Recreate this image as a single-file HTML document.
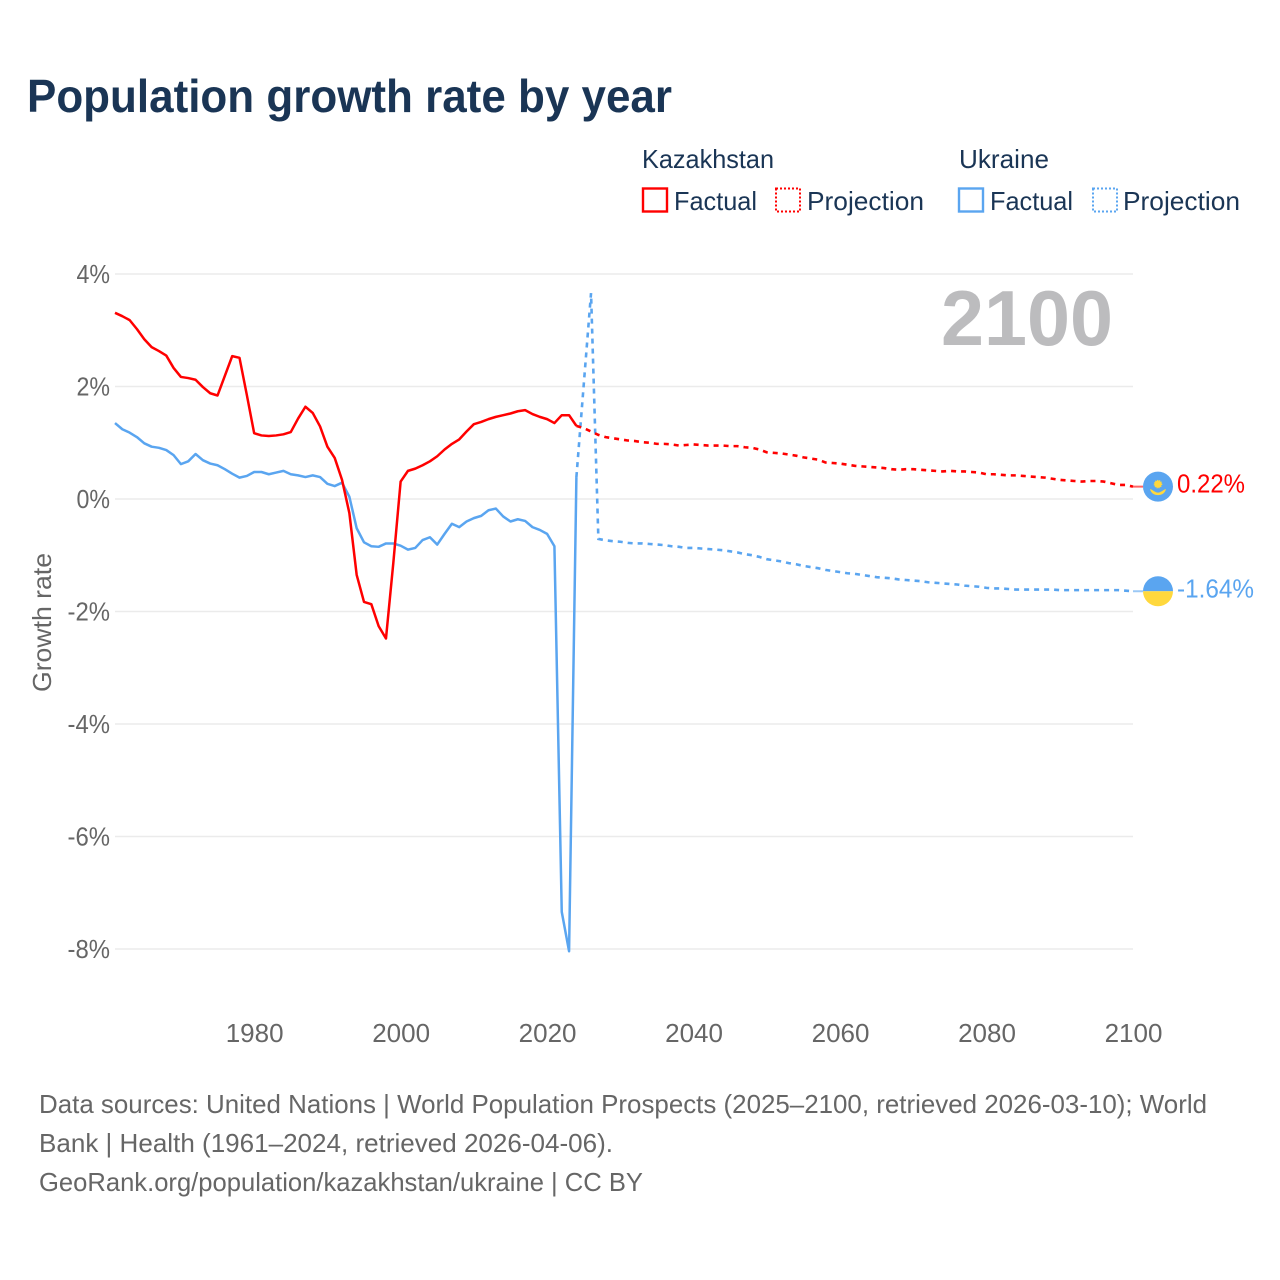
<!DOCTYPE html>
<html lang="en">
<head>
<meta charset="utf-8">
<title>Population growth rate by year</title>
<style>
html,body{margin:0;padding:0;background:#fff;width:1280px;height:1280px;overflow:hidden}
svg{display:block}
text{font-family:"Liberation Sans",sans-serif}
</style>
</head>
<body>
<svg id="chart" width="1280" height="1280" viewBox="0 0 1280 1280" xmlns="http://www.w3.org/2000/svg">
  <rect width="1280" height="1280" fill="#fff"/>
  <text x="27" y="112" font-size="46" font-weight="700" fill="#1a3555" textLength="645" lengthAdjust="spacingAndGlyphs">Population growth rate by year</text>

  <g font-size="26" fill="#1a3555">
    <text x="642" y="168" textLength="132" lengthAdjust="spacingAndGlyphs">Kazakhstan</text>
    <rect x="643" y="188.5" width="24" height="23" fill="none" stroke="#ff0000" stroke-width="2.4"/>
    <text x="674" y="210" textLength="83" lengthAdjust="spacingAndGlyphs">Factual</text>
    <rect x="776" y="188.5" width="24" height="23" fill="none" stroke="#ff0000" stroke-width="2" stroke-dasharray="2 2"/>
    <text x="807" y="210" textLength="117" lengthAdjust="spacingAndGlyphs">Projection</text>
    <text x="959" y="168" textLength="90" lengthAdjust="spacingAndGlyphs">Ukraine</text>
    <rect x="959" y="188.5" width="24" height="23" fill="none" stroke="#5aa5f0" stroke-width="2.4"/>
    <text x="990" y="210" textLength="83" lengthAdjust="spacingAndGlyphs">Factual</text>
    <rect x="1093" y="188.5" width="24" height="23" fill="none" stroke="#5aa5f0" stroke-width="2" stroke-dasharray="2 2"/>
    <text x="1123" y="210" textLength="117" lengthAdjust="spacingAndGlyphs">Projection</text>
  </g>

  <g id="grid"></g>
  <g id="yticks"></g>
  <g id="xticks"></g>

  <text x="941" y="345" font-size="78" font-weight="700" fill="#bcbcbe" textLength="172" lengthAdjust="spacingAndGlyphs">2100</text>
  <text transform="translate(51,692) rotate(-90)" font-size="26" fill="#666" textLength="139" lengthAdjust="spacingAndGlyphs">Growth rate</text>

  <g id="series"></g>
  <g id="ends"></g>

  <g font-size="26" fill="#666">
    <text x="39" y="1113" textLength="1168" lengthAdjust="spacingAndGlyphs">Data sources: United Nations | World Population Prospects (2025–2100, retrieved 2026-03-10); World</text>
    <text x="39" y="1152" textLength="574" lengthAdjust="spacingAndGlyphs">Bank | Health (1961–2024, retrieved 2026-04-06).</text>
    <text x="39" y="1191" textLength="604" lengthAdjust="spacingAndGlyphs">GeoRank.org/population/kazakhstan/ukraine | CC BY</text>
  </g>
</svg>

<script>
const yTicks = [4, 2, 0, -2, -4, -6, -8];
const xTicks = [1980, 2000, 2020, 2040, 2060, 2080, 2100];
const factualStartYear = 1961;
const projectionStartYear = 2024;

const kazakhstanFactual = [3.31,3.25,3.18,3.02,2.84,2.70,2.63,2.55,2.33,2.17,2.15,2.12,1.99,1.88,1.84,2.19,2.54,2.51,1.85,1.17,1.13,1.12,1.13,1.15,1.19,1.43,1.64,1.53,1.29,0.93,0.73,0.34,-0.25,-1.35,-1.83,-1.87,-2.26,-2.48,-1.14,0.31,0.50,0.54,0.60,0.67,0.76,0.88,0.98,1.06,1.20,1.33,1.37,1.42,1.46,1.49,1.52,1.56,1.58,1.51,1.46,1.42,1.35,1.49,1.49,1.30];
const kazakhstanProjection = [1.30,1.26,1.20,1.14,1.10,1.08,1.06,1.04,1.03,1.01,1.00,0.98,0.98,0.97,0.95,0.96,0.97,0.96,0.95,0.95,0.95,0.94,0.94,0.92,0.91,0.88,0.83,0.82,0.81,0.79,0.77,0.74,0.72,0.70,0.65,0.64,0.63,0.61,0.59,0.58,0.57,0.56,0.55,0.53,0.52,0.53,0.53,0.52,0.51,0.50,0.49,0.50,0.49,0.49,0.48,0.47,0.44,0.44,0.43,0.42,0.42,0.41,0.40,0.39,0.38,0.36,0.34,0.33,0.32,0.31,0.32,0.32,0.31,0.28,0.25,0.25,0.22];
const ukraineFactual = [1.35,1.24,1.18,1.10,0.99,0.93,0.91,0.87,0.78,0.62,0.67,0.80,0.69,0.63,0.60,0.53,0.45,0.38,0.41,0.48,0.48,0.44,0.47,0.50,0.44,0.42,0.39,0.42,0.39,0.27,0.23,0.29,0.04,-0.52,-0.77,-0.84,-0.85,-0.79,-0.79,-0.83,-0.90,-0.87,-0.73,-0.68,-0.81,-0.62,-0.44,-0.50,-0.40,-0.34,-0.30,-0.20,-0.17,-0.31,-0.40,-0.36,-0.39,-0.50,-0.55,-0.62,-0.84,-7.34,-8.04,0.39];
const ukraineProjection = [0.39,2.03,3.66,-0.71,-0.735,-0.75,-0.76,-0.78,-0.79,-0.79,-0.80,-0.81,-0.82,-0.84,-0.85,-0.87,-0.87,-0.88,-0.89,-0.90,-0.91,-0.93,-0.95,-0.98,-1.00,-1.03,-1.07,-1.09,-1.11,-1.14,-1.16,-1.19,-1.21,-1.23,-1.26,-1.28,-1.30,-1.32,-1.33,-1.35,-1.37,-1.39,-1.40,-1.41,-1.43,-1.44,-1.45,-1.46,-1.48,-1.49,-1.50,-1.51,-1.52,-1.54,-1.55,-1.56,-1.58,-1.59,-1.59,-1.60,-1.61,-1.61,-1.61,-1.61,-1.61,-1.61,-1.62,-1.62,-1.62,-1.62,-1.62,-1.62,-1.62,-1.62,-1.62,-1.63,-1.64];

const NS = 'http://www.w3.org/2000/svg';
const RED = '#ff0000';
const BLUE = '#5aa5f0';
const X0 = 115, X1 = 1133, Y4 = 274, Y0 = 499;

function xScale(year) { return X0 + (year - 1961) * (X1 - X0) / (2100 - 1961); }
function yScale(v) { return Y0 - v * (Y0 - Y4) / 4; }
function svgEl(tag, attrs, parent) {
  const el = document.createElementNS(NS, tag);
  for (const k in attrs) el.setAttribute(k, attrs[k]);
  parent.appendChild(el);
  return el;
}
function pathFrom(values, startYear) {
  return values.map((v, i) => (i ? 'L' : 'M') + xScale(startYear + i).toFixed(2) + ' ' + yScale(v).toFixed(2)).join('');
}
function labelWidth(s) {
  let w = 0;
  for (const c of s) w += c === '%' ? 19 : c === '-' ? 9 : c === '.' ? 6.5 : 14.5;
  return w;
}

const gridG = document.getElementById('grid');
const yG = document.getElementById('yticks');
const xG = document.getElementById('xticks');
const seriesG = document.getElementById('series');
const endsG = document.getElementById('ends');

yTicks.forEach(t => {
  const line = svgEl('line', {x1: X0, x2: X1, y1: yScale(t), y2: yScale(t), stroke: '#ebebeb', 'stroke-width': 1.5}, gridG);
  
  
  const s = t + '%';
  const label = svgEl('text', {x: 110, y: yScale(t) + 9, 'text-anchor': 'end', 'font-size': 26, fill: '#666', textLength: labelWidth(s), lengthAdjust: 'spacingAndGlyphs'}, yG);
  
  
  label.textContent = s;
});

xTicks.forEach(t => {
  const label = svgEl('text', {x: xScale(t) + 0.5, y: 1042, 'text-anchor': 'middle', 'font-size': 26, fill: '#666'}, xG);
  
  
  label.textContent = t;
});

const ukF = svgEl('path', {d: pathFrom(ukraineFactual, factualStartYear), fill: 'none', stroke: BLUE, 'stroke-width': 2.5, 'stroke-linejoin': 'round'}, seriesG);


const kzF = svgEl('path', {d: pathFrom(kazakhstanFactual, factualStartYear), fill: 'none', stroke: RED, 'stroke-width': 2.5, 'stroke-linejoin': 'round'}, seriesG);


const ukP = svgEl('path', {d: pathFrom(ukraineProjection, projectionStartYear), fill: 'none', stroke: BLUE, 'stroke-width': 2.6, 'stroke-dasharray': '5 5'}, seriesG);


const kzP = svgEl('path', {d: pathFrom(kazakhstanProjection, projectionStartYear), fill: 'none', stroke: RED, 'stroke-width': 2.6, 'stroke-dasharray': '5 5'}, seriesG);



const kzLast = kazakhstanProjection[kazakhstanProjection.length - 1];
const ukLast = ukraineProjection[ukraineProjection.length - 1];
const flagX = 1158;

// Kazakhstan end marker
const kzY = yScale(kzLast);
const kzConn = svgEl('line', {x1: X1, x2: flagX - 15, y1: kzY, y2: kzY, stroke: RED, 'stroke-width': 2, opacity: 0.6}, endsG);


const kzFlag = svgEl('g', {transform: 'translate(' + flagX + ',' + kzY + ')'}, endsG);


svgEl('circle', {r: 15, fill: '#5aa5f0'}, kzFlag);
svgEl('circle', {cy: -2.5, r: 3.6, fill: '#ffd83d', stroke: '#ffd83d', 'stroke-width': 1.4, 'stroke-dasharray': '1 1'}, kzFlag);
svgEl('path', {d: 'M-8 2.5C-5 3 -3 6 0 6C3 6 5 3 8 2.5C7 6.5 4 8.5 0 8.5C-4 8.5 -7 6.5 -8 2.5Z', fill: '#ffd83d'}, kzFlag);
const kzLabel = svgEl('text', {x: 1177, y: kzY + 6, 'font-size': 26, fill: RED, textLength: 68, lengthAdjust: 'spacingAndGlyphs'}, endsG);


kzLabel.textContent = kzLast.toFixed(2) + '%';

// Ukraine end marker
const ukY = yScale(ukLast);
const ukConn = svgEl('line', {x1: X1, x2: flagX - 15, y1: ukY, y2: ukY, stroke: BLUE, 'stroke-width': 2, opacity: 0.6}, endsG);


const ukFlag = svgEl('g', {transform: 'translate(' + flagX + ',' + ukY + ')'}, endsG);


svgEl('path', {d: 'M-15 0A15 15 0 0 1 15 0Z', fill: '#5aa5f0'}, ukFlag);
svgEl('path', {d: 'M-15 0A15 15 0 0 0 15 0Z', fill: '#ffd83d'}, ukFlag);
const ukLabel = svgEl('text', {x: 1177, y: ukY + 6, 'font-size': 26, fill: BLUE, textLength: 77, lengthAdjust: 'spacingAndGlyphs'}, endsG);


ukLabel.textContent = ukLast.toFixed(2) + '%';
</script>
</body>
</html>
